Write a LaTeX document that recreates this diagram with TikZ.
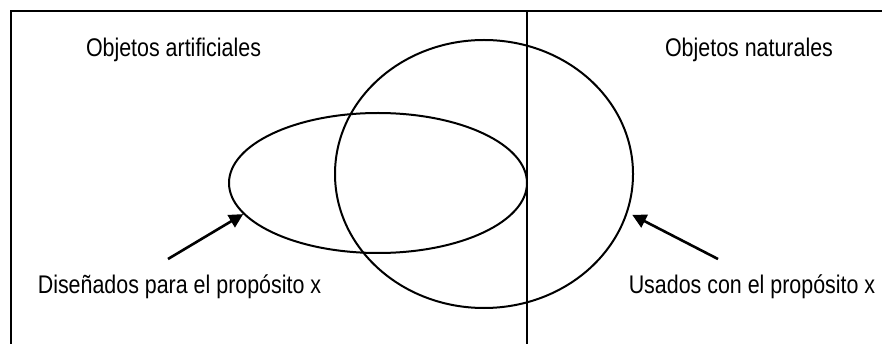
\documentclass[tikz,border=0pt]{standalone}
\usepackage{fontspec}
\setmainfont{Liberation Sans}[FakeStretch=0.84]
\usetikzlibrary{shapes.geometric,arrows.meta}
\begin{document}
\begin{tikzpicture}[x=1pt,y=-1pt,
  frame/.style={line width=2pt},
  setshape/.style={draw,ellipse,line width=2pt,inner sep=0pt},
  lbl/.style={anchor=base,inner sep=0pt,font=\fontsize{25.5}{30}\selectfont},
  pointer/.style={line width=2.6pt,-{Triangle[length=14pt,width=14pt]}}]
\useasboundingbox (0,0) rectangle (882,344);
% frame
\coordinate (tl) at (11,11);
\coordinate (bl) at (11,346);
\coordinate (tr) at (884,11);
\coordinate (mt) at (527,11);
\coordinate (mb) at (527,346);
\draw[frame] (bl) -- (tl) -- (tr);
\draw[frame] (mt) -- (mb);
% sets
\node[setshape,minimum width=298pt,minimum height=140pt] (small) at (378,183) {};
\node[setshape,minimum width=298pt,minimum height=268pt] (big) at (484,174) {};
% labels
\node[lbl] (art) at (173.5,57) {Objetos artificiales};
\node[lbl] (nat) at (749,57) {Objetos naturales};
\node[lbl] (dis) at (179.5,293) {Diseñados para el propósito x};
\node[lbl] (usa) at (752,293) {Usados con el propósito x};
% arrows
\coordinate (ltail) at (168,259);
\coordinate (rtail) at (718,259);
\draw[pointer] (ltail) -- (small.193.4);
\draw[pointer,shorten >=5pt] (rtail) -- (big.-15.4);
\end{tikzpicture}
\end{document}
